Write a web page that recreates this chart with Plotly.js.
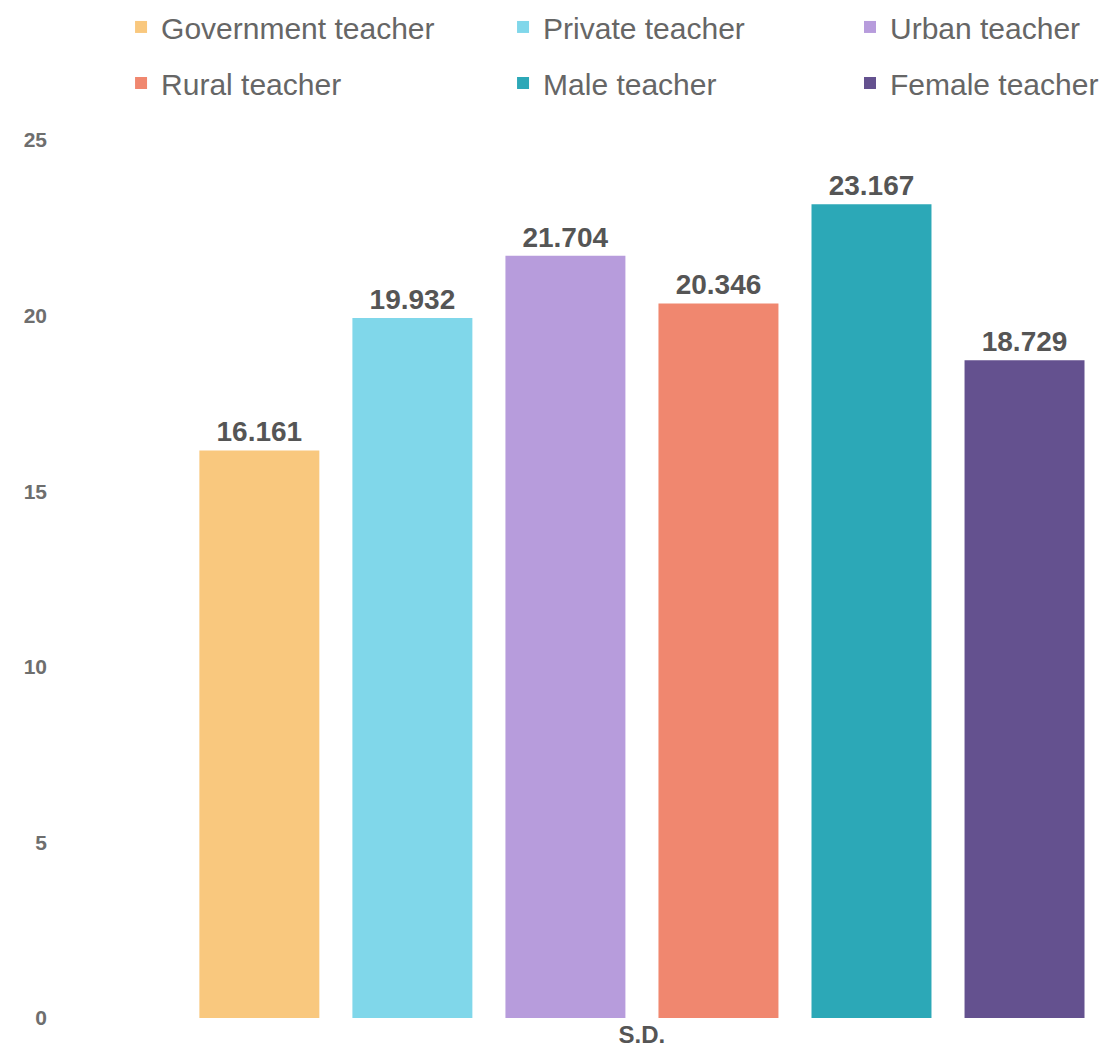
<!DOCTYPE html>
<html>
<head>
<meta charset="utf-8">
<script src="https://cdn.plot.ly/plotly-3.0.1.min.js"></script>
<style>html,body{margin:0;padding:0;background:#fff;}#chart{width:1108px;height:1057px;}</style>
</head>
<body>
<div id="chart"></div>
<script>
const category = ["S.D."];
const seriesNames = ["Government teacher", "Private teacher", "Urban teacher", "Rural teacher", "Male teacher", "Female teacher"];
const seriesValues = [16.161, 19.932, 21.704, 20.346, 23.167, 18.729];
const seriesColors = ["#F9C87E", "#80D7EA", "#B79CDC", "#F0876F", "#2CA8B7", "#64518F"];
const legendIds = ["legend", "legend2", "legend3", "legend4", "legend5", "legend6"];
const yTicks = [0, 5, 10, 15, 20, 25];

const traces = seriesNames.map((name, i) => ({
  type: "bar",
  name: name,
  x: category,
  y: [seriesValues[i]],
  marker: {color: seriesColors[i]},
  text: [seriesValues[i].toFixed(3)],
  textposition: "outside",
  textfont: {family: "Liberation Sans, Arial, sans-serif", size: 28, color: "#555555", weight: "bold"},
  cliponaxis: false,
  legend: legendIds[i],
  hoverinfo: "name+y"
}));

const legendFont = {family: "Liberation Sans, Arial, sans-serif", size: 30, color: "#666666"};
const colX = [0.0587, 0.426, 0.7596];
const rowY = [0.9745, 0.9215];

const layout = {
  width: 1108,
  height: 1057,
  paper_bgcolor: "#ffffff",
  plot_bgcolor: "#ffffff",
  margin: {l: 60, r: 8, t: 140, b: 39},
  barmode: "group",
  bargap: 0.118,
  bargroupgap: 0.216,
  showlegend: true,
  xaxis: {
    type: "category",
    range: [-0.559, 0.44],
    showgrid: false, zeroline: false, showline: false, ticks: "",
    tickfont: {family: "Liberation Sans, Arial, sans-serif", size: 24, color: "#555555", weight: "bold"}
  },
  yaxis: {
    range: [0, 25],
    tickvals: yTicks,
    ticktext: yTicks.map(String),
    showgrid: false, zeroline: false, showline: false, ticks: "",
    ticklabelstandoff: 12,
    tickfont: {family: "Liberation Sans, Arial, sans-serif", size: 21, color: "#6e6e6e", weight: "bold"}
  }
};

legendIds.forEach((id, i) => {
  layout[id] = {
    orientation: "h",
    x: colX[i % 3], xanchor: "left",
    yref: "container", y: rowY[Math.floor(i / 3)], yanchor: "middle",
    font: legendFont, bgcolor: "rgba(0,0,0,0)"
  };
});

Plotly.newPlot("chart", traces, layout, {displayModeBar: false, staticPlot: true});
</script>
</body>
</html>
